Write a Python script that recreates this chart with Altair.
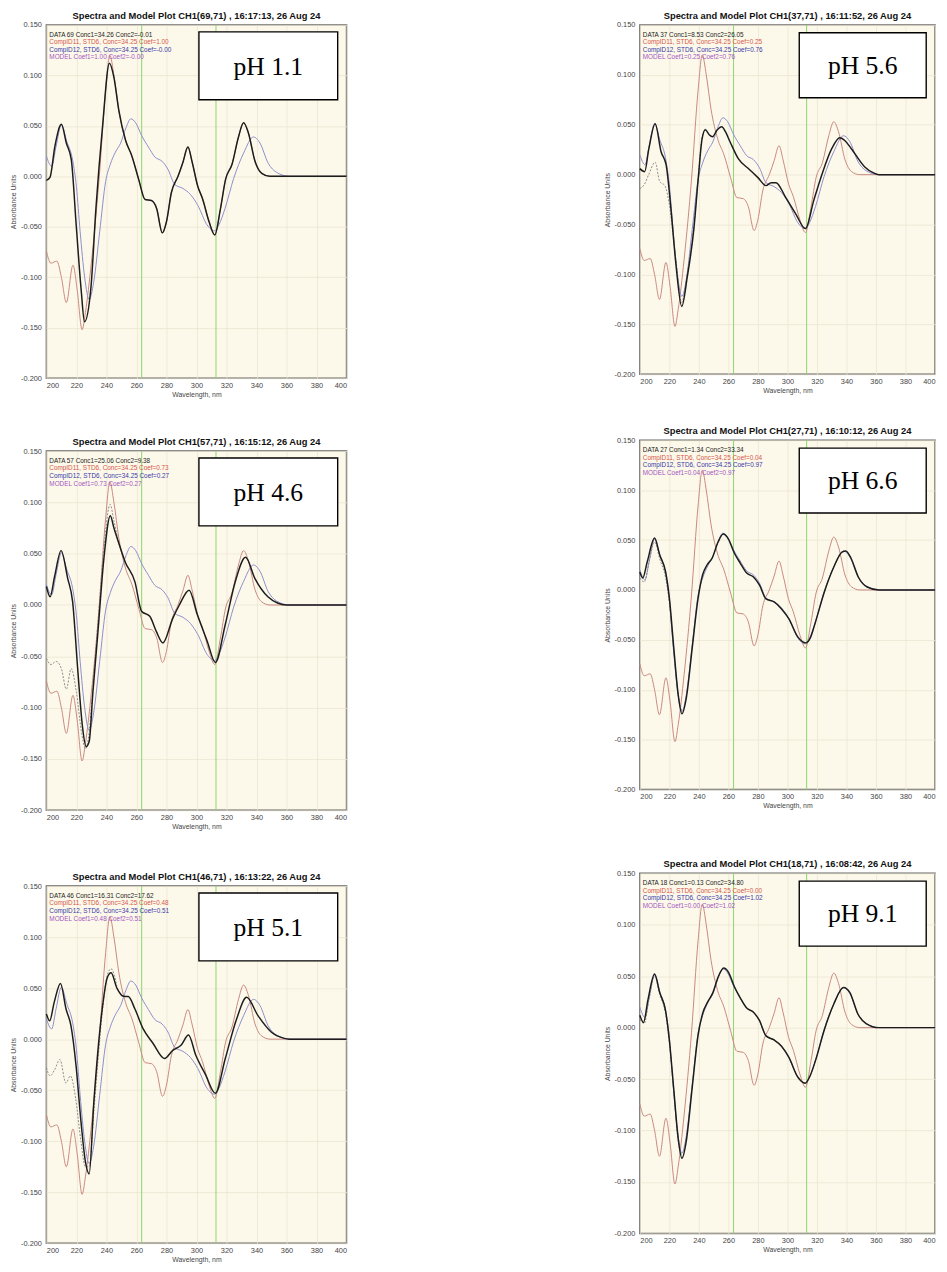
import altair as alt
import pandas as pd

# ---------------- data ----------------
WL_TICKS = [200, 220, 240, 260, 280, 300, 320, 340, 360, 380, 400]
ABS_TICKS = [-0.200, -0.150, -0.100, -0.050, 0.000, 0.050, 0.100, 0.150]
MARKER_WL = [263.5, 313.0]

# standard CompID11 (red)
RED_WL = [200, 203, 207, 210, 213.3, 217.7, 220.5, 223.8, 226, 230, 235, 239.5, 242.3, 245,
          248.3, 252.7, 257, 261.5, 265.8, 270, 273.5, 277.4, 280, 283.3, 287.7, 291, 294.3,
          297, 300.8, 304, 308.4, 312.2, 316, 319.4, 323.7, 328, 331.4, 334.6, 339, 343.5, 349, 400]
RED_VAL = [-0.074, -0.086, -0.084, -0.100, -0.125, -0.088, -0.112, -0.152, -0.135, -0.085, -0.005,
           0.085, 0.120, 0.100, 0.065, 0.036, 0.020, -0.003, -0.023, -0.024, -0.032, -0.056, -0.045,
           -0.016, 0.000, 0.014, 0.029, 0.015, -0.0095, -0.022, -0.045, -0.058, -0.032, -0.003,
           0.012, 0.039, 0.053, 0.043, 0.015, 0.003, 0.000, 0.000]

# standard CompID12 (blue)
BLUE_WL = [200, 203.5, 206.5, 210, 213.5, 217.5, 220, 222.5, 225.5, 228.5, 231.5, 235.5, 239.5,
           242.6, 246, 249.5, 253, 256.3, 259.5, 263.6, 268, 272.4, 277, 281, 285.5, 291, 296,
           301, 307, 312, 315, 319, 324.8, 331.4, 338, 342.3, 347.8, 353.3, 362, 400]
BLUE_VAL = [0.020, 0.010, 0.030, 0.051, 0.035, 0.016, -0.010, -0.055, -0.100, -0.122, -0.105,
            -0.055, -0.005, 0.012, 0.024, 0.033, 0.048, 0.057, 0.053, 0.040, 0.029, 0.019, 0.015,
            0.007, -0.008, -0.012, -0.018, -0.029, -0.048, -0.054, -0.048, -0.032, -0.002, 0.023,
            0.039, 0.033, 0.013, 0.004, 0.000, 0.000]

# pH 1.1
DATA1_WL = [200, 202.4, 205.7, 210, 213.3, 216.6, 219.9, 223.2, 225.4, 229.7, 233, 237.4, 242,
            245, 248.3, 252.7, 257, 261.5, 265.8, 270, 273.5, 277.2, 280, 283.3, 287.7, 291, 294.3,
            297, 300.8, 304, 308.4, 312.2, 316, 319.4, 323.7, 328, 331.4, 334.6, 339, 343.5, 349, 400]
DATA1_VAL = [-0.004, -0.001, 0.030, 0.0515, 0.033, 0.0166, -0.049, -0.113, -0.144, -0.110, -0.032,
             0.049, 0.112, 0.098, 0.065, 0.036, 0.020, -0.003, -0.023, -0.024, -0.032, -0.056,
             -0.045, -0.016, 0.000, 0.014, 0.029, 0.015, -0.0095, -0.022, -0.045, -0.058, -0.032,
             -0.003, 0.012, 0.039, 0.053, 0.043, 0.015, 0.003, 0.000, 0.000]
MODEL1_WL = []
MODEL1_VAL = []

# pH 5.6
DATA2_WL = [200, 203.3, 206, 210.4, 214.4, 217.8, 221, 224.4, 228.4, 232.2, 236.7, 239.5, 242.2,
            244.4, 247, 249.3, 252, 255.5, 258, 261.1, 266.7, 274.4, 280, 285.5, 289, 292.2, 298.9,
            305.5, 312.2, 317.8, 323.3, 330, 335.5, 339, 343.3, 352.2, 358, 362, 400]
DATA2_VAL = [0.006, 0.003, 0.025, 0.051, 0.023, 0.010, -0.033, -0.089, -0.132, -0.102, -0.053,
             -0.005, 0.036, 0.045, 0.040, 0.038, 0.044, 0.048, 0.043, 0.033, 0.016, 0.005, -0.003,
             -0.011, -0.008, -0.008, -0.023, -0.039, -0.054, -0.026, 0.000, 0.026, 0.037, 0.034,
             0.026, 0.008, 0.002, 0.000, 0.000]
MODEL2_WL = [200, 203, 206, 210.4, 213.5, 217, 220, 224.4, 228.4, 232, 236.7, 239.5, 242.2, 244.4]
MODEL2_VAL = [-0.014, -0.010, 0.000, 0.0125, -0.007, -0.011, -0.030, -0.085, -0.128, -0.100,
              -0.050, -0.005, 0.038, 0.046]

# pH 4.6
DATA3_WL = [200, 202.5, 205.5, 209.8, 214.2, 217.5, 220.8, 224, 226.5, 228.5, 231, 234.2, 238.3,
            242.6, 245, 248.1, 252.5, 259, 263.4, 268.9, 273.3, 277.6, 284.2, 288.6, 295.1, 300.6,
            307.1, 312.6, 319.2, 325.8, 332.7, 338.9, 347.6, 354, 360, 400]
DATA3_VAL = [0.018, 0.008, 0.028, 0.053, 0.026, 0.003, -0.061, -0.118, -0.138, -0.133, -0.085,
             -0.029, 0.045, 0.087, 0.075, 0.061, 0.042, 0.0225, -0.006, -0.011, -0.026, -0.037,
             -0.013, 0.000, 0.0144, -0.0096, -0.035, -0.056, -0.019, 0.0225, 0.0465, 0.026, 0.008,
             0.002, 0.000, 0.000]
MODEL3_WL = [200, 203, 206.5, 210, 213.3, 216.5, 220, 223.5, 226, 228, 231, 234.2, 238.3, 242.5,
             245, 248, 252.5]
MODEL3_VAL = [-0.052, -0.058, -0.055, -0.062, -0.082, -0.062, -0.085, -0.125, -0.140, -0.130,
              -0.080, -0.020, 0.055, 0.098, 0.082, 0.062, 0.042]

# pH 6.6
DATA4_WL = [200, 202, 205, 210, 213.5, 217.5, 220, 223, 226, 228.5, 231.5, 235.5, 239.5, 242.5,
            245.5, 249, 253, 256.5, 260, 264, 268, 272.4, 277, 281, 285.5, 291, 296, 301, 307,
            312.5, 315.5, 319, 325, 331.4, 337, 339.5, 343, 348, 354, 362, 400]
DATA4_VAL = [0.018, 0.012, 0.028, 0.052, 0.035, 0.018, -0.008, -0.058, -0.105, -0.124, -0.108,
             -0.058, -0.008, 0.015, 0.025, 0.032, 0.048, 0.056, 0.051, 0.037, 0.027, 0.017, 0.013,
             0.005, -0.009, -0.012, -0.019, -0.029, -0.047, -0.053, -0.048, -0.032, -0.002, 0.023,
             0.038, 0.039, 0.032, 0.013, 0.003, 0.000, 0.000]
MODEL4_WL = [200, 203, 206, 210, 213.5, 217.5, 220, 223, 226, 228.5]
MODEL4_VAL = [0.012, 0.008, 0.026, 0.048, 0.031, 0.012, -0.013, -0.060, -0.105, -0.121]

# pH 5.1
DATA5_WL = [200, 202.2, 205.2, 209.4, 213.1, 216.4, 219.7, 223, 226, 228.5, 231.7, 237.2, 240.5,
            243.1, 247, 251.4, 254.6, 259, 264.5, 271, 278.7, 284.2, 289.7, 294.7, 299.5, 306.1,
            312.6, 319.2, 326.8, 333.4, 341, 349.8, 358, 362, 400]
DATA5_VAL = [0.0247, 0.018, 0.036, 0.0545, 0.0295, 0.013, -0.025, -0.080, -0.120, -0.132, -0.060,
             0.0295, 0.060, 0.065, 0.050, 0.042, 0.0417, 0.0295, 0.010, -0.004, -0.019, -0.011,
             -0.006, 0.004, -0.0155, -0.035, -0.053, -0.019, 0.020, 0.041, 0.023, 0.007, 0.001,
             0.000, 0.000]
MODEL5_WL = [200, 202.5, 205.5, 209, 213, 216, 219.5, 223, 226, 228.5, 231.7, 237.2, 240.5, 243.1,
             247]
MODEL5_VAL = [-0.028, -0.036, -0.030, -0.020, -0.043, -0.036, -0.058, -0.100, -0.125, -0.125,
              -0.070, 0.025, 0.062, 0.069, 0.052]

# pH 9.1
DATA6_WL = [200, 202.5, 205.5, 210, 213.5, 217.5, 220, 223, 226, 228.5, 231.5, 235.5, 239.5,
            242.6, 246, 249.5, 253, 256.8, 260, 264, 268, 272.4, 277, 281, 285.5, 291, 296, 301,
            307, 312, 315, 319, 325, 331.4, 338, 342.3, 347.8, 353.3, 362, 400]
DATA6_VAL = [0.012, 0.005, 0.027, 0.052, 0.034, 0.016, -0.012, -0.060, -0.108, -0.127, -0.110,
             -0.058, -0.007, 0.014, 0.025, 0.034, 0.049, 0.058, 0.054, 0.040, 0.029, 0.019, 0.015,
             0.007, -0.008, -0.012, -0.018, -0.029, -0.048, -0.054, -0.048, -0.032, -0.002, 0.023,
             0.039, 0.034, 0.013, 0.004, 0.000, 0.000]
MODEL6_WL = [200, 203, 206, 210, 213.5, 217.5, 220, 223, 226, 228.5]
MODEL6_VAL = [0.008, 0.004, 0.026, 0.050, 0.032, 0.013, -0.015, -0.062, -0.110, -0.125]

TITLES = [
    "Spectra and Model Plot CH1(69,71) , 16:17:13, 26 Aug 24",
    "Spectra and Model Plot CH1(37,71) , 16:11:52, 26 Aug 24",
    "Spectra and Model Plot CH1(57,71) , 16:15:12, 26 Aug 24",
    "Spectra and Model Plot CH1(27,71) , 16:10:12, 26 Aug 24",
    "Spectra and Model Plot CH1(46,71) , 16:13:22, 26 Aug 24",
    "Spectra and Model Plot CH1(18,71) , 16:08:42, 26 Aug 24",
]
DATA_LINES = ["DATA 69 Conc1=34.26 Conc2=-0.01", "DATA 37 Conc1=8.53 Conc2=26.05",
              "DATA 57 Conc1=25.06 Conc2=9.38", "DATA 27 Conc1=1.34 Conc2=33.34",
              "DATA 46 Conc1=16.31 Conc2=17.62", "DATA 18 Conc1=0.13 Conc2=34.80"]
COEF1 = ["1.00", "0.25", "0.73", "0.04", "0.48", "0.00"]
COEF2 = ["-0.00", "0.76", "0.27", "0.97", "0.51", "1.02"]
PH_LABELS = ["pH 1.1", "pH 5.6", "pH 4.6", "pH 6.6", "pH 5.1", "pH 9.1"]

DATA_SETS = [(DATA1_WL, DATA1_VAL, MODEL1_WL, MODEL1_VAL),
             (DATA2_WL, DATA2_VAL, MODEL2_WL, MODEL2_VAL),
             (DATA3_WL, DATA3_VAL, MODEL3_WL, MODEL3_VAL),
             (DATA4_WL, DATA4_VAL, MODEL4_WL, MODEL4_VAL),
             (DATA5_WL, DATA5_VAL, MODEL5_WL, MODEL5_VAL),
             (DATA6_WL, DATA6_VAL, MODEL6_WL, MODEL6_VAL)]

# ---------------- styling / layout ----------------
FONT = "Liberation Sans"
RED_LINE = "#c8877f"
BLUE_LINE = "#8c8ccc"
LEGEND_COLORS = ["#222222", "#d4574a", "#3838a8", "#a355c2"]


def frame(wl, val):
    return pd.DataFrame({"wl": wl, "a": val})


def panel(i, w, h, box):
    xenc = alt.X("wl:Q", scale=alt.Scale(domain=[200, 400], nice=False, zero=False),
                 axis=alt.Axis(values=WL_TICKS, title="Wavelength, nm", labelPadding=3,
                               titlePadding=2))
    yenc = alt.Y("a:Q", scale=alt.Scale(domain=[-0.2, 0.15], nice=False, zero=False),
                 axis=alt.Axis(values=ABS_TICKS, title="Absorbance Units", labelPadding=5,
                               titlePadding=4,
                               labelExpr="replace(format(datum.value, '.3f'), '\u2212', '-')"))
    dwl, dval, mwl, mval = DATA_SETS[i]
    layers = []
    layers.append(alt.Chart(frame(MARKER_WL, [0] * len(MARKER_WL))).mark_rule(
        color="#8ad66c", strokeWidth=1).encode(x=xenc))
    layers.append(alt.Chart(frame(RED_WL, RED_VAL)).mark_line(
        color=RED_LINE, strokeWidth=1, interpolate="monotone").encode(x=xenc, y=yenc))
    layers.append(alt.Chart(frame(BLUE_WL, BLUE_VAL)).mark_line(
        color=BLUE_LINE, strokeWidth=1, interpolate="monotone").encode(x=xenc, y=yenc))
    if mwl:
        layers.append(alt.Chart(frame(mwl, mval)).mark_line(
            color="#8a8a8a", strokeWidth=1, strokeDash=[2, 1.5],
            interpolate="monotone").encode(x=xenc, y=yenc))
    layers.append(alt.Chart(frame(dwl, dval)).mark_line(
        color="#1c1c1c", strokeWidth=1.5, interpolate="monotone").encode(x=xenc, y=yenc))

    legend = [DATA_LINES[i],
              "CompID11, STD6, Conc=34.25 Coef=" + COEF1[i],
              "CompID12, STD6, Conc=34.25 Coef=" + COEF2[i],
              "MODEL Coef1=" + COEF1[i] + " Coef2=" + COEF2[i]]
    for k, line in enumerate(legend):
        layers.append(alt.Chart(pd.DataFrame({"t": [line]})).mark_text(
            align="left", baseline="middle", font=FONT, fontSize=6.5,
            color=LEGEND_COLORS[k]).encode(
            x=alt.value(3), y=alt.value(10 + 7.7 * k), text="t:N"))

    bx0, bx1, by0, by1 = box
    layers.append(alt.Chart(pd.DataFrame({"t": [PH_LABELS[i]]})).mark_rect(
        fill="white", stroke="black", strokeWidth=1.4).encode(
        x=alt.value(bx0), x2=alt.value(bx1), y=alt.value(by0), y2=alt.value(by1)))
    layers.append(alt.Chart(pd.DataFrame({"t": [PH_LABELS[i]]})).mark_text(
        font="Liberation Serif", fontSize=26, align="center", baseline="middle",
        color="black").encode(
        x=alt.value((bx0 + bx1) / 2), y=alt.value((by0 + by1) / 2 + 1), text="t:N"))

    return alt.layer(*layers).properties(
        width=w, height=h,
        title=alt.TitleParams(TITLES[i], font=FONT, fontSize=9.5, fontWeight="bold",
                              color="#111111", offset=1))


LBOX = (155, 296, 7, 76)
RBOX = (162, 291, 8, 74)

p1 = panel(0, 305, 359, LBOX)
p2 = panel(1, 300, 355, RBOX)
p3 = panel(2, 305, 365, LBOX)
p4 = panel(3, 300, 355, RBOX)
p5 = panel(4, 305, 363, LBOX)
p6 = panel(5, 300, 366, RBOX)

left = alt.vconcat(alt.vconcat(p1, p3, spacing=37), p5, spacing=40)
right = alt.vconcat(alt.vconcat(p2, p4, spacing=30), p6, spacing=48)

chart = alt.hconcat(left, right, spacing=255).properties(
    padding={"top": -9, "left": 0, "right": 0, "bottom": 0}
).configure_view(
    fill="#fdf9ea", stroke="#666666", strokeWidth=1.5
).configure_axis(
    labelFont=FONT, labelFontSize=7.5, labelColor="#444444",
    titleFont=FONT, titleFontSize=7, titleFontWeight="normal", titleColor="#444444",
    gridColor="#ebe5d2", gridWidth=0.8, domain=False, ticks=False
)

chart.save("out.html", embed_options={"renderer": "svg", "actions": False})
